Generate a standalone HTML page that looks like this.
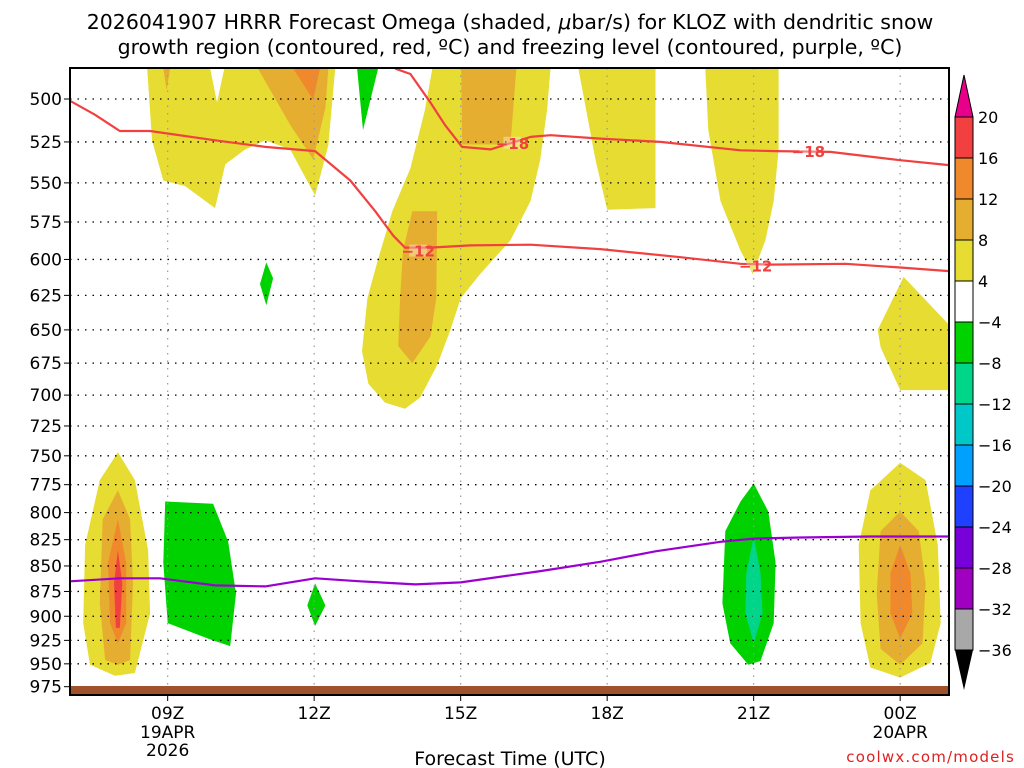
<!DOCTYPE html>
<html><head><meta charset="utf-8"><style>
html,body{margin:0;padding:0;background:#fff;width:1024px;height:768px;overflow:hidden}
svg{display:block;font-family:"DejaVu Sans","Liberation Sans",sans-serif}
</style></head><body>
<svg id="chart" width="1024" height="768" viewBox="0 0 1024 768" xmlns="http://www.w3.org/2000/svg">
<g id="title" font-size="20.5" fill="#000" text-anchor="middle">
<text x="510" y="29">2026041907 HRRR Forecast Omega (shaded, <tspan font-style="italic">μ</tspan>bar/s) for KLOZ with dendritic snow</text>
<text x="510" y="54">growth region (contoured, red, ºC) and freezing level (contoured, purple, ºC)</text>
</g>
<defs><clipPath id="pc"><rect x="70" y="68" width="879" height="627"/></clipPath></defs>
<g id="fills" clip-path="url(#pc)"></g>
<g id="grid"></g>
<g id="lines" clip-path="url(#pc)"></g>
<rect x="70" y="686" width="879" height="8" fill="#a0522d"/>
<rect x="70" y="68" width="879" height="627" fill="none" stroke="#000" stroke-width="2"/>
<g id="axes"></g>
<g id="cbar"></g>
<text x="510" y="765" font-size="19" text-anchor="middle">Forecast Time (UTC)</text>
<text x="1015" y="762" font-size="15" text-anchor="end" fill="#e02020" letter-spacing="1.2">coolwx.com/models</text>
</svg>
<script>
// ---- data ----
const pressureLevels=[500,525,550,575,600,625,650,675,700,725,750,775,800,825,850,875,900,925,950,975];
const timeTickHours=[9,12,15,18,21,24];
const timeTickLabels=["09Z","12Z","15Z","18Z","21Z","00Z"];
const timeTickSub=[["19APR","2026"],[],[],[],[],["20APR"]];
const cbarLevels=["20","16","12","8","4","−4","−8","−12","−16","−20","−24","−28","−32","−36"];
const cbarColors=["#f24040","#f0882c","#e6ae30","#e6dc32","#ffffff","#00d200","#00d68a","#00c8c8","#00a0ff","#2040ff","#7800d8","#a000c0","#a8a8a8"];
const shadeYellow=[
 [[8.58,483],[8.68,524],[8.91,548.5],[9.36,552],[9.97,566],[10.18,538.5],[10.59,529.5],[11.0,524],[11.51,529.5],[12.02,558],[12.29,527],[12.43,483],[10.16,483],[10.01,502],[9.87,483]],
 [[14.42,483],[14.27,506],[13.97,541],[13.6,568],[13.29,602],[13.09,627],[12.98,666],[13.11,691],[13.45,706],[13.86,711],[14.17,702],[14.52,676.5],[14.79,650],[15.0,627],[15.4,610],[16.02,587],[16.43,561.5],[16.63,535.5],[16.77,506],[16.84,483]],
 [[17.41,483],[17.76,535.5],[18.0,567],[18.99,566],[18.99,483]],
 [[20.01,483],[20.07,518],[20.32,561.5],[20.73,594],[20.98,610],[21.24,587],[21.41,561.5],[21.51,529.5],[21.51,483]],
 [[24.07,612],[23.54,650],[23.6,663],[24.0,696],[25.1,696],[25.1,650]],
 [[7.98,747],[8.33,771],[8.6,835],[8.64,897],[8.33,960],[7.92,963],[7.41,951],[7.27,907],[7.31,830],[7.61,771]],
 [[24.0,756],[24.52,771],[24.77,830],[24.83,907],[24.62,949],[24.0,965],[23.39,954],[23.19,907],[23.15,830],[23.39,780]]
];
const shadeGold=[
 [[10.85,483],[11.51,515],[11.98,535.5],[12.23,505],[12.29,483]],
 [[8.91,483],[8.98,495],[9.05,483]],
 [[15.01,483],[15.03,526.5],[16.02,526.5],[16.14,483]],
 [[14.01,568],[14.52,568],[14.5,627],[14.38,655],[14.01,675],[13.72,662],[13.76,627],[13.82,594]],
 [[7.98,780],[8.23,806],[8.29,867],[8.23,946],[7.98,951],[7.72,946],[7.61,887],[7.67,806]],
 [[24.0,799],[24.38,817],[24.52,867],[24.46,928],[24.0,951],[23.6,934],[23.52,877],[23.6,817]]
];
const shadeOrange=[
 [[11.57,483],[11.98,500.5],[12.12,483]],
 [[7.98,806],[8.15,847],[8.15,907],[7.98,928],[7.82,907],[7.78,847]],
 [[24.0,830],[24.21,857],[24.25,897],[24.0,923],[23.8,897],[23.8,857]]
];
const shadeRed=[[[7.98,835],[8.07,867],[8.02,912],[7.94,912],[7.9,867]]];
const shadeGreen=[
 [[12.88,483],[13.0,518],[13.31,483]],
 [[11.02,602],[11.16,613],[11.02,632],[10.89,617]],
 [[8.95,790],[9.93,792],[10.24,827],[10.4,877],[10.28,931],[9.87,924],[9.0,907],[8.91,847]],
 [[12.02,867],[12.23,889],[12.02,910],[11.86,889]],
 [[21.0,774],[21.3,799],[21.45,847],[21.41,907],[21.14,947],[20.89,951],[20.52,928],[20.36,887],[20.42,817],[20.73,790]]
];
const shadeTeal=[[[21.0,822],[21.14,857],[21.18,897],[21.0,928],[20.83,897],[20.85,857]]];
const isoM12=[[7,501],[7.51,509],[8.02,518.5],[8.64,518.5],[9.97,524],[11.0,528],[12.02,530.5],[12.74,548.5],[13.25,568],[13.62,584],[13.86,592],[14.38,592],[15.2,590.5],[16.43,590],[17.86,593],[19.5,598.5],[20.73,603],[21.34,603.5],[22.88,603],[24.0,605.5],[25,608]];
const isoM18=[[13.66,483],[13.97,486],[14.38,502],[14.68,515],[15.03,528],[15.61,529.5],[16.43,522],[16.84,521],[17.86,523],[19.09,525],[20.73,530],[21.45,530.5],[22.57,531],[24.0,536],[25,539]];
const freezeLine=[[7,865],[8.02,862],[8.84,862],[9.97,869],[11.0,870],[12.02,862],[12.94,865],[14.07,868],[15.0,866],[16.63,855],[17.86,846],[18.99,836],[20.32,827],[21.0,824],[21.96,823],[23.39,822],[25,822]];
const labelsM12=[[14.13,594],[21.04,604]];
const labelsM18=[[16.06,525.5],[22.12,530.5]];
// ---- axes ----
const X0=70,X1=949,H0=7,H1=25;
const xs=h=>X0+(h-H0)*(X1-X0)/(H1-H0);
const ys=p=>99+880*Math.log(p/500);
const NS="http://www.w3.org/2000/svg";
function mk(tag,attrs,parent){const e=document.createElementNS(NS,tag);for(const k in attrs)e.setAttribute(k,attrs[k]);parent.appendChild(e);return e;}
const pts=a=>a.map(d=>xs(d[0]).toFixed(1)+","+ys(d[1]).toFixed(1)).join(" ");
const fills=document.getElementById("fills");
[[shadeYellow,"#e6dc32","yellow"],[shadeGold,"#e6ae30","gold"],[shadeOrange,"#f0882c","orange"],[shadeRed,"#f24040","red"],[shadeGreen,"#00d200","green"],[shadeTeal,"#00d68a","teal"]].forEach(([set,col,nm])=>{
 set.forEach((poly,i)=>{const e=mk("polygon",{points:pts(poly),fill:col},fills);
 
 });
});
const grid=document.getElementById("grid");
pressureLevels.forEach(p=>{const e=mk("line",{x1:X0,x2:X1,y1:ys(p),y2:ys(p),stroke:"#000","stroke-width":1.3,"stroke-dasharray":"1.5 6"},grid);
 
 });
timeTickHours.forEach(h=>{const e=mk("line",{x1:xs(h),x2:xs(h),y1:68,y2:695,stroke:"#999","stroke-width":1.2,"stroke-dasharray":"1.5 6"},grid);
 
 });
const lines=document.getElementById("lines");
function poly(d,col,w,nm){const e=mk("polyline",{points:pts(d),fill:"none",stroke:col,"stroke-width":w,"stroke-linejoin":"round"},lines);
 
 }
poly(isoM12,"#f04040",2.2,"isotherm-minus12");
poly(isoM18,"#f04040",2.2,"isotherm-minus18");
poly(freezeLine,"#9a00d0",2.2,"freezing-level-line");
function lab(arr,t){arr.forEach(d=>{const x=xs(d[0]),y=ys(d[1]);
 const r=mk("rect",{x:x-9,y:y-6,width:18,height:12,fill:"#fff","fill-opacity":0.35},lines);
 
 
 const e=mk("text",{x:x,y:y+6,"font-size":15,"font-weight":"bold",fill:"#f04040","text-anchor":"middle"},lines);e.textContent=t;
 
 });}
lab(labelsM12,"−12");lab(labelsM18,"−18");
const axes=document.getElementById("axes");
pressureLevels.forEach(p=>{const e=mk("text",{x:62,y:ys(p)+6,"font-size":17,"text-anchor":"end"},axes);e.textContent=p;
 
 
 mk("line",{x1:64,x2:70,y1:ys(p),y2:ys(p),stroke:"#000","stroke-width":1},axes);});
timeTickHours.forEach((h,i)=>{const x=xs(h);
 mk("line",{x1:x,x2:x,y1:695,y2:701,stroke:"#000","stroke-width":1},axes);
 const e=mk("text",{x:x,y:719,"font-size":17,"text-anchor":"middle"},axes);e.textContent=timeTickLabels[i];
 
 
 timeTickSub[i].forEach((s,j)=>{const t=mk("text",{x:x,y:738+j*18,"font-size":17,"text-anchor":"middle"},axes);t.textContent=s;
 
 });});
const cb=document.getElementById("cbar");
const CT=117,CS=41,CX=955,CW=18;
cbarColors.forEach((c,i)=>{const e=mk("rect",{x:CX,y:CT+i*CS,width:CW,height:CS,fill:c,stroke:"#000","stroke-width":1},cb);
 
 });
const tri1=mk("polygon",{points:`${CX},${CT} ${CX+CW},${CT} ${CX+CW/2},${CT-42}`,fill:"#e8008a",stroke:"#000","stroke-width":1},cb);


const yb=CT+cbarColors.length*CS;
const tri2=mk("polygon",{points:`${CX},${yb} ${CX+CW},${yb} ${CX+CW/2},${yb+40}`,fill:"#000"},cb);


cbarLevels.forEach((l,i)=>{const e=mk("text",{x:978,y:CT+i*CS+6,"font-size":16},cb);e.textContent=l;
 
 });
</script>
</body></html>
